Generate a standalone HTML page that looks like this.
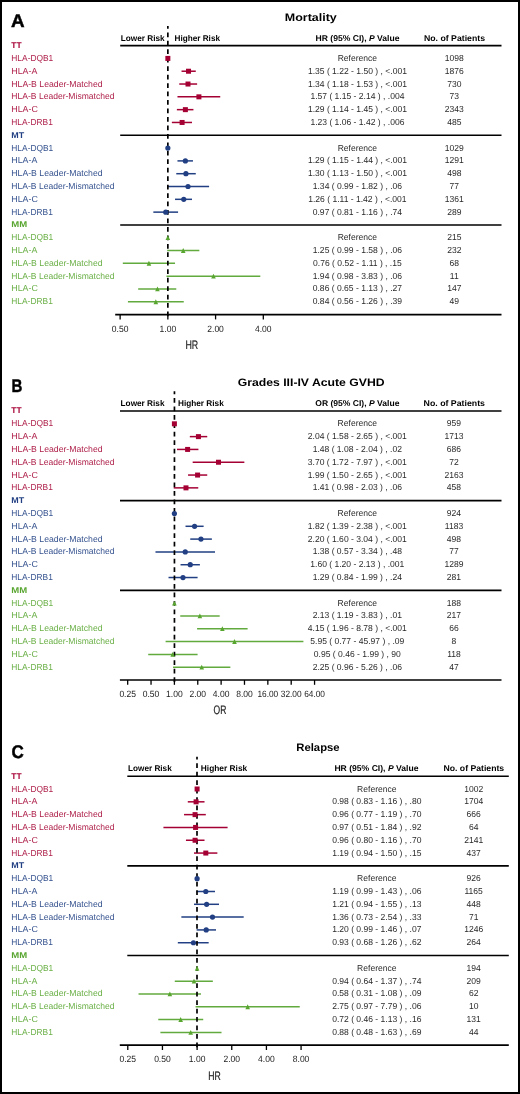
<!DOCTYPE html>
<html><head><meta charset="utf-8"><style>
html,body{margin:0;padding:0;background:#fff;}
.frame{position:relative;width:520px;height:1094px;box-sizing:border-box;border:2px solid #000;overflow:hidden;}
svg{position:absolute;left:-2px;top:-2px;will-change:transform;}
text{font-family:"Liberation Sans", sans-serif;text-rendering:geometricPrecision;}
</style></head><body><div class="frame">
<svg width="520" height="1094" viewBox="0 0 520 1094">
<text x="11.00" y="26.70" font-size="18.2" font-weight="700" fill="#000" textLength="13.60" lengthAdjust="spacingAndGlyphs" stroke="#000" stroke-width="0.45">A</text>
<text x="284.80" y="20.60" font-size="10.9" font-weight="700" fill="#000" textLength="52.00" lengthAdjust="spacingAndGlyphs">Mortality</text>
<text x="120.80" y="40.50" font-size="8.45" font-weight="700" fill="#000" textLength="43.80" lengthAdjust="spacingAndGlyphs">Lower Risk</text>
<text x="174.50" y="40.50" font-size="8.45" font-weight="700" fill="#000" textLength="45.50" lengthAdjust="spacingAndGlyphs">Higher Risk</text>
<text x="315.60" y="40.50" font-size="8.45" font-weight="700" fill="#000" textLength="83.90" lengthAdjust="spacingAndGlyphs">HR (95% CI), <tspan font-style="italic">P</tspan> Value</text>
<text x="424.00" y="40.50" font-size="8.45" font-weight="700" fill="#000" textLength="61.00" lengthAdjust="spacingAndGlyphs">No. of Patients</text>
<line x1="120.2" y1="45.60" x2="501.5" y2="45.60" stroke="#000" stroke-width="1.6"/>
<line x1="120.2" y1="135.27" x2="501.5" y2="135.27" stroke="#000" stroke-width="1.6"/>
<line x1="120.2" y1="224.94" x2="501.5" y2="224.94" stroke="#000" stroke-width="1.6"/>
<line x1="115.2" y1="314.61" x2="501.5" y2="314.61" stroke="#000" stroke-width="1.7"/>
<line x1="120.12" y1="314.61" x2="120.12" y2="319.41" stroke="#000" stroke-width="1.3"/>
<text x="120.12" y="331.81" font-size="9.1" fill="#222" text-anchor="middle" textLength="16.60" lengthAdjust="spacingAndGlyphs">0.50</text>
<line x1="167.85" y1="314.61" x2="167.85" y2="319.41" stroke="#000" stroke-width="1.3"/>
<text x="167.85" y="331.81" font-size="9.1" fill="#222" text-anchor="middle" textLength="16.60" lengthAdjust="spacingAndGlyphs">1.00</text>
<line x1="215.58" y1="314.61" x2="215.58" y2="319.41" stroke="#000" stroke-width="1.3"/>
<text x="215.58" y="331.81" font-size="9.1" fill="#222" text-anchor="middle" textLength="16.60" lengthAdjust="spacingAndGlyphs">2.00</text>
<line x1="263.31" y1="314.61" x2="263.31" y2="319.41" stroke="#000" stroke-width="1.3"/>
<text x="263.31" y="331.81" font-size="9.1" fill="#222" text-anchor="middle" textLength="16.60" lengthAdjust="spacingAndGlyphs">4.00</text>
<text x="185.40" y="348.80" font-size="12.209302325581445" fill="#222" textLength="12.80" lengthAdjust="spacingAndGlyphs" stroke="#222" stroke-width="0.2">HR</text>
<text x="11.30" y="47.90" font-size="8.4" font-weight="700" fill="#A50034" textLength="10.30" lengthAdjust="spacingAndGlyphs">TT</text>
<text x="11.30" y="60.91" font-size="8.75" fill="#AE1F49" textLength="42.00" lengthAdjust="spacingAndGlyphs">HLA-DQB1</text>
<text x="357.40" y="60.91" font-size="8.75" fill="#2A2A2A" text-anchor="middle" textLength="39.41" lengthAdjust="spacingAndGlyphs">Reference</text>
<text x="454.30" y="60.91" font-size="8.75" fill="#2A2A2A" text-anchor="middle" textLength="19.02" lengthAdjust="spacingAndGlyphs">1098</text>
<text x="11.30" y="73.72" font-size="8.75" fill="#AE1F49" textLength="26.10" lengthAdjust="spacingAndGlyphs">HLA-A</text>
<text x="357.40" y="73.72" font-size="8.75" fill="#2A2A2A" text-anchor="middle" textLength="99.02" lengthAdjust="spacingAndGlyphs">1.35 ( 1.22 - 1.50 ) , &lt;.001</text>
<text x="454.30" y="73.72" font-size="8.75" fill="#2A2A2A" text-anchor="middle" textLength="19.02" lengthAdjust="spacingAndGlyphs">1876</text>
<text x="11.30" y="86.53" font-size="8.75" fill="#AE1F49" textLength="91.30" lengthAdjust="spacingAndGlyphs">HLA-B Leader-Matched</text>
<text x="357.40" y="86.53" font-size="8.75" fill="#2A2A2A" text-anchor="middle" textLength="99.02" lengthAdjust="spacingAndGlyphs">1.34 ( 1.18 - 1.53 ) , &lt;.001</text>
<text x="454.30" y="86.53" font-size="8.75" fill="#2A2A2A" text-anchor="middle" textLength="14.26" lengthAdjust="spacingAndGlyphs">730</text>
<text x="11.30" y="99.34" font-size="8.75" fill="#AE1F49" textLength="103.20" lengthAdjust="spacingAndGlyphs">HLA-B Leader-Mismatched</text>
<text x="357.40" y="99.34" font-size="8.75" fill="#2A2A2A" text-anchor="middle" textLength="94.03" lengthAdjust="spacingAndGlyphs">1.57 ( 1.15 - 2.14 ) , .004</text>
<text x="454.30" y="99.34" font-size="8.75" fill="#2A2A2A" text-anchor="middle" textLength="9.52" lengthAdjust="spacingAndGlyphs">73</text>
<text x="11.30" y="112.15" font-size="8.75" fill="#AE1F49" textLength="26.60" lengthAdjust="spacingAndGlyphs">HLA-C</text>
<text x="357.40" y="112.15" font-size="8.75" fill="#2A2A2A" text-anchor="middle" textLength="99.02" lengthAdjust="spacingAndGlyphs">1.29 ( 1.14 - 1.45 ) , &lt;.001</text>
<text x="454.30" y="112.15" font-size="8.75" fill="#2A2A2A" text-anchor="middle" textLength="19.02" lengthAdjust="spacingAndGlyphs">2343</text>
<text x="11.30" y="124.96" font-size="8.75" fill="#AE1F49" textLength="41.50" lengthAdjust="spacingAndGlyphs">HLA-DRB1</text>
<text x="357.40" y="124.96" font-size="8.75" fill="#2A2A2A" text-anchor="middle" textLength="94.03" lengthAdjust="spacingAndGlyphs">1.23 ( 1.06 - 1.42 ) , .006</text>
<text x="454.30" y="124.96" font-size="8.75" fill="#2A2A2A" text-anchor="middle" textLength="14.26" lengthAdjust="spacingAndGlyphs">485</text>
<text x="11.30" y="137.57" font-size="8.4" font-weight="700" fill="#213F82" textLength="12.90" lengthAdjust="spacingAndGlyphs">MT</text>
<text x="11.30" y="150.58" font-size="8.75" fill="#36538F" textLength="42.00" lengthAdjust="spacingAndGlyphs">HLA-DQB1</text>
<text x="357.40" y="150.58" font-size="8.75" fill="#2A2A2A" text-anchor="middle" textLength="39.41" lengthAdjust="spacingAndGlyphs">Reference</text>
<text x="454.30" y="150.58" font-size="8.75" fill="#2A2A2A" text-anchor="middle" textLength="19.02" lengthAdjust="spacingAndGlyphs">1029</text>
<text x="11.30" y="163.39" font-size="8.75" fill="#36538F" textLength="26.10" lengthAdjust="spacingAndGlyphs">HLA-A</text>
<text x="357.40" y="163.39" font-size="8.75" fill="#2A2A2A" text-anchor="middle" textLength="99.02" lengthAdjust="spacingAndGlyphs">1.29 ( 1.15 - 1.44 ) , &lt;.001</text>
<text x="454.30" y="163.39" font-size="8.75" fill="#2A2A2A" text-anchor="middle" textLength="19.02" lengthAdjust="spacingAndGlyphs">1291</text>
<text x="11.30" y="176.20" font-size="8.75" fill="#36538F" textLength="91.30" lengthAdjust="spacingAndGlyphs">HLA-B Leader-Matched</text>
<text x="357.40" y="176.20" font-size="8.75" fill="#2A2A2A" text-anchor="middle" textLength="99.02" lengthAdjust="spacingAndGlyphs">1.30 ( 1.13 - 1.50 ) , &lt;.001</text>
<text x="454.30" y="176.20" font-size="8.75" fill="#2A2A2A" text-anchor="middle" textLength="14.26" lengthAdjust="spacingAndGlyphs">498</text>
<text x="11.30" y="189.01" font-size="8.75" fill="#36538F" textLength="103.20" lengthAdjust="spacingAndGlyphs">HLA-B Leader-Mismatched</text>
<text x="357.40" y="189.01" font-size="8.75" fill="#2A2A2A" text-anchor="middle" textLength="89.29" lengthAdjust="spacingAndGlyphs">1.34 ( 0.99 - 1.82 ) , .06</text>
<text x="454.30" y="189.01" font-size="8.75" fill="#2A2A2A" text-anchor="middle" textLength="9.52" lengthAdjust="spacingAndGlyphs">77</text>
<text x="11.30" y="201.82" font-size="8.75" fill="#36538F" textLength="26.60" lengthAdjust="spacingAndGlyphs">HLA-C</text>
<text x="357.40" y="201.82" font-size="8.75" fill="#2A2A2A" text-anchor="middle" textLength="98.40" lengthAdjust="spacingAndGlyphs">1.26 ( 1.11 - 1.42 ) , &lt;.001</text>
<text x="454.30" y="201.82" font-size="8.75" fill="#2A2A2A" text-anchor="middle" textLength="19.02" lengthAdjust="spacingAndGlyphs">1361</text>
<text x="11.30" y="214.63" font-size="8.75" fill="#36538F" textLength="41.50" lengthAdjust="spacingAndGlyphs">HLA-DRB1</text>
<text x="357.40" y="214.63" font-size="8.75" fill="#2A2A2A" text-anchor="middle" textLength="89.29" lengthAdjust="spacingAndGlyphs">0.97 ( 0.81 - 1.16 ) , .74</text>
<text x="454.30" y="214.63" font-size="8.75" fill="#2A2A2A" text-anchor="middle" textLength="14.26" lengthAdjust="spacingAndGlyphs">289</text>
<text x="11.30" y="227.24" font-size="8.4" font-weight="700" fill="#58A530" textLength="15.90" lengthAdjust="spacingAndGlyphs">MM</text>
<text x="11.30" y="240.25" font-size="8.75" fill="#6BB047" textLength="42.00" lengthAdjust="spacingAndGlyphs">HLA-DQB1</text>
<text x="357.40" y="240.25" font-size="8.75" fill="#2A2A2A" text-anchor="middle" textLength="39.41" lengthAdjust="spacingAndGlyphs">Reference</text>
<text x="454.30" y="240.25" font-size="8.75" fill="#2A2A2A" text-anchor="middle" textLength="14.26" lengthAdjust="spacingAndGlyphs">215</text>
<text x="11.30" y="253.06" font-size="8.75" fill="#6BB047" textLength="26.10" lengthAdjust="spacingAndGlyphs">HLA-A</text>
<text x="357.40" y="253.06" font-size="8.75" fill="#2A2A2A" text-anchor="middle" textLength="89.29" lengthAdjust="spacingAndGlyphs">1.25 ( 0.99 - 1.58 ) , .06</text>
<text x="454.30" y="253.06" font-size="8.75" fill="#2A2A2A" text-anchor="middle" textLength="14.26" lengthAdjust="spacingAndGlyphs">232</text>
<text x="11.30" y="265.87" font-size="8.75" fill="#6BB047" textLength="91.30" lengthAdjust="spacingAndGlyphs">HLA-B Leader-Matched</text>
<text x="357.40" y="265.87" font-size="8.75" fill="#2A2A2A" text-anchor="middle" textLength="88.64" lengthAdjust="spacingAndGlyphs">0.76 ( 0.52 - 1.11 ) , .15</text>
<text x="454.30" y="265.87" font-size="8.75" fill="#2A2A2A" text-anchor="middle" textLength="9.52" lengthAdjust="spacingAndGlyphs">68</text>
<text x="11.30" y="278.68" font-size="8.75" fill="#6BB047" textLength="103.20" lengthAdjust="spacingAndGlyphs">HLA-B Leader-Mismatched</text>
<text x="357.40" y="278.68" font-size="8.75" fill="#2A2A2A" text-anchor="middle" textLength="89.29" lengthAdjust="spacingAndGlyphs">1.94 ( 0.98 - 3.83 ) , .06</text>
<text x="454.30" y="278.68" font-size="8.75" fill="#2A2A2A" text-anchor="middle" textLength="8.87" lengthAdjust="spacingAndGlyphs">11</text>
<text x="11.30" y="291.49" font-size="8.75" fill="#6BB047" textLength="26.60" lengthAdjust="spacingAndGlyphs">HLA-C</text>
<text x="357.40" y="291.49" font-size="8.75" fill="#2A2A2A" text-anchor="middle" textLength="89.29" lengthAdjust="spacingAndGlyphs">0.86 ( 0.65 - 1.13 ) , .27</text>
<text x="454.30" y="291.49" font-size="8.75" fill="#2A2A2A" text-anchor="middle" textLength="14.26" lengthAdjust="spacingAndGlyphs">147</text>
<text x="11.30" y="304.30" font-size="8.75" fill="#6BB047" textLength="41.50" lengthAdjust="spacingAndGlyphs">HLA-DRB1</text>
<text x="357.40" y="304.30" font-size="8.75" fill="#2A2A2A" text-anchor="middle" textLength="89.29" lengthAdjust="spacingAndGlyphs">0.84 ( 0.56 - 1.26 ) , .39</text>
<text x="454.30" y="304.30" font-size="8.75" fill="#2A2A2A" text-anchor="middle" textLength="9.52" lengthAdjust="spacingAndGlyphs">49</text>
<line x1="181.54" y1="71.22" x2="195.77" y2="71.22" stroke="#A50034" stroke-width="1.5"/>
<line x1="179.25" y1="84.03" x2="197.13" y2="84.03" stroke="#A50034" stroke-width="1.5"/>
<line x1="177.47" y1="96.84" x2="220.24" y2="96.84" stroke="#A50034" stroke-width="1.5"/>
<line x1="176.87" y1="109.65" x2="193.44" y2="109.65" stroke="#A50034" stroke-width="1.5"/>
<line x1="171.86" y1="122.46" x2="192.00" y2="122.46" stroke="#A50034" stroke-width="1.5"/>
<line x1="177.47" y1="160.89" x2="192.96" y2="160.89" stroke="#213F82" stroke-width="1.5"/>
<line x1="176.27" y1="173.70" x2="195.77" y2="173.70" stroke="#213F82" stroke-width="1.5"/>
<line x1="167.16" y1="186.51" x2="209.09" y2="186.51" stroke="#213F82" stroke-width="1.5"/>
<line x1="175.04" y1="199.32" x2="192.00" y2="199.32" stroke="#213F82" stroke-width="1.5"/>
<line x1="153.34" y1="212.13" x2="178.07" y2="212.13" stroke="#213F82" stroke-width="1.5"/>
<line x1="167.16" y1="250.56" x2="199.35" y2="250.56" stroke="#62AA3E" stroke-width="1.5"/>
<line x1="122.82" y1="263.37" x2="175.04" y2="263.37" stroke="#62AA3E" stroke-width="1.5"/>
<line x1="166.46" y1="276.18" x2="260.32" y2="276.18" stroke="#62AA3E" stroke-width="1.5"/>
<line x1="138.19" y1="288.99" x2="176.27" y2="288.99" stroke="#62AA3E" stroke-width="1.5"/>
<line x1="127.92" y1="301.80" x2="183.76" y2="301.80" stroke="#62AA3E" stroke-width="1.5"/>
<line x1="167.85" y1="26" x2="167.85" y2="319.41" stroke="#000" stroke-width="1.7" stroke-dasharray="4.75 3.71" stroke-dashoffset="2.06"/>
<rect x="165.35" y="55.91" width="5" height="5" fill="#A50034"/>
<rect x="186.02" y="68.72" width="5" height="5" fill="#A50034"/>
<rect x="185.50" y="81.53" width="5" height="5" fill="#A50034"/>
<rect x="196.41" y="94.34" width="5" height="5" fill="#A50034"/>
<rect x="182.88" y="107.15" width="5" height="5" fill="#A50034"/>
<rect x="179.60" y="119.96" width="5" height="5" fill="#A50034"/>
<circle cx="167.85" cy="148.08" r="2.6" fill="#213F82"/>
<circle cx="185.38" cy="160.89" r="2.6" fill="#213F82"/>
<circle cx="185.92" cy="173.70" r="2.6" fill="#213F82"/>
<circle cx="188.00" cy="186.51" r="2.6" fill="#213F82"/>
<circle cx="183.76" cy="199.32" r="2.6" fill="#213F82"/>
<circle cx="165.75" cy="212.13" r="2.6" fill="#213F82"/>
<polygon points="167.85,235.25 170.15,240.10 165.55,240.10" fill="#58A530"/>
<polygon points="183.22,248.06 185.52,252.91 180.92,252.91" fill="#58A530"/>
<polygon points="148.95,260.87 151.25,265.72 146.65,265.72" fill="#58A530"/>
<polygon points="213.48,273.68 215.78,278.53 211.18,278.53" fill="#58A530"/>
<polygon points="157.46,286.49 159.76,291.34 155.16,291.34" fill="#58A530"/>
<polygon points="155.84,299.30 158.14,304.15 153.54,304.15" fill="#58A530"/>
<text x="11.60" y="391.90" font-size="18.2" font-weight="700" fill="#000" textLength="10.90" lengthAdjust="spacingAndGlyphs" stroke="#000" stroke-width="0.45">B</text>
<text x="237.70" y="386.20" font-size="10.9" font-weight="700" fill="#000" textLength="146.90" lengthAdjust="spacingAndGlyphs">Grades III-IV Acute GVHD</text>
<text x="120.60" y="405.60" font-size="8.45" font-weight="700" fill="#000" textLength="43.90" lengthAdjust="spacingAndGlyphs">Lower Risk</text>
<text x="178.00" y="405.60" font-size="8.45" font-weight="700" fill="#000" textLength="45.75" lengthAdjust="spacingAndGlyphs">Higher Risk</text>
<text x="315.30" y="405.60" font-size="8.45" font-weight="700" fill="#000" textLength="84.10" lengthAdjust="spacingAndGlyphs">OR (95% CI), <tspan font-style="italic">P</tspan> Value</text>
<text x="423.60" y="405.60" font-size="8.45" font-weight="700" fill="#000" textLength="61.40" lengthAdjust="spacingAndGlyphs">No. of Patients</text>
<line x1="120.0" y1="411.00" x2="501.5" y2="411.00" stroke="#000" stroke-width="1.6"/>
<line x1="120.0" y1="500.67" x2="501.5" y2="500.67" stroke="#000" stroke-width="1.6"/>
<line x1="120.0" y1="590.34" x2="501.5" y2="590.34" stroke="#000" stroke-width="1.6"/>
<line x1="119.9" y1="680.01" x2="501.5" y2="680.01" stroke="#000" stroke-width="1.7"/>
<line x1="127.68" y1="680.01" x2="127.68" y2="684.81" stroke="#000" stroke-width="1.3"/>
<text x="127.68" y="697.21" font-size="9.1" fill="#222" text-anchor="middle" textLength="16.60" lengthAdjust="spacingAndGlyphs">0.25</text>
<line x1="151.04" y1="680.01" x2="151.04" y2="684.81" stroke="#000" stroke-width="1.3"/>
<text x="151.04" y="697.21" font-size="9.1" fill="#222" text-anchor="middle" textLength="16.60" lengthAdjust="spacingAndGlyphs">0.50</text>
<line x1="174.40" y1="680.01" x2="174.40" y2="684.81" stroke="#000" stroke-width="1.3"/>
<text x="174.40" y="697.21" font-size="9.1" fill="#222" text-anchor="middle" textLength="16.60" lengthAdjust="spacingAndGlyphs">1.00</text>
<line x1="197.76" y1="680.01" x2="197.76" y2="684.81" stroke="#000" stroke-width="1.3"/>
<text x="197.76" y="697.21" font-size="9.1" fill="#222" text-anchor="middle" textLength="16.60" lengthAdjust="spacingAndGlyphs">2.00</text>
<line x1="221.12" y1="680.01" x2="221.12" y2="684.81" stroke="#000" stroke-width="1.3"/>
<text x="221.12" y="697.21" font-size="9.1" fill="#222" text-anchor="middle" textLength="16.60" lengthAdjust="spacingAndGlyphs">4.00</text>
<line x1="244.48" y1="680.01" x2="244.48" y2="684.81" stroke="#000" stroke-width="1.3"/>
<text x="244.48" y="697.21" font-size="9.1" fill="#222" text-anchor="middle" textLength="16.60" lengthAdjust="spacingAndGlyphs">8.00</text>
<line x1="267.84" y1="680.01" x2="267.84" y2="684.81" stroke="#000" stroke-width="1.3"/>
<text x="267.84" y="697.21" font-size="9.1" fill="#222" text-anchor="middle" textLength="20.80" lengthAdjust="spacingAndGlyphs">16.00</text>
<line x1="291.20" y1="680.01" x2="291.20" y2="684.81" stroke="#000" stroke-width="1.3"/>
<text x="291.20" y="697.21" font-size="9.1" fill="#222" text-anchor="middle" textLength="20.80" lengthAdjust="spacingAndGlyphs">32.00</text>
<line x1="314.56" y1="680.01" x2="314.56" y2="684.81" stroke="#000" stroke-width="1.3"/>
<text x="314.56" y="697.21" font-size="9.1" fill="#222" text-anchor="middle" textLength="20.80" lengthAdjust="spacingAndGlyphs">64.00</text>
<text x="213.60" y="714.40" font-size="12.354651162790699" fill="#222" textLength="12.80" lengthAdjust="spacingAndGlyphs" stroke="#222" stroke-width="0.2">OR</text>
<text x="11.30" y="413.30" font-size="8.4" font-weight="700" fill="#A50034" textLength="10.30" lengthAdjust="spacingAndGlyphs">TT</text>
<text x="11.30" y="426.31" font-size="8.75" fill="#AE1F49" textLength="42.00" lengthAdjust="spacingAndGlyphs">HLA-DQB1</text>
<text x="357.30" y="426.31" font-size="8.75" fill="#2A2A2A" text-anchor="middle" textLength="39.41" lengthAdjust="spacingAndGlyphs">Reference</text>
<text x="454.00" y="426.31" font-size="8.75" fill="#2A2A2A" text-anchor="middle" textLength="14.26" lengthAdjust="spacingAndGlyphs">959</text>
<text x="11.30" y="439.12" font-size="8.75" fill="#AE1F49" textLength="26.10" lengthAdjust="spacingAndGlyphs">HLA-A</text>
<text x="357.30" y="439.12" font-size="8.75" fill="#2A2A2A" text-anchor="middle" textLength="99.02" lengthAdjust="spacingAndGlyphs">2.04 ( 1.58 - 2.65 ) , &lt;.001</text>
<text x="454.00" y="439.12" font-size="8.75" fill="#2A2A2A" text-anchor="middle" textLength="19.02" lengthAdjust="spacingAndGlyphs">1713</text>
<text x="11.30" y="451.93" font-size="8.75" fill="#AE1F49" textLength="91.30" lengthAdjust="spacingAndGlyphs">HLA-B Leader-Matched</text>
<text x="357.30" y="451.93" font-size="8.75" fill="#2A2A2A" text-anchor="middle" textLength="89.29" lengthAdjust="spacingAndGlyphs">1.48 ( 1.08 - 2.04 ) , .02</text>
<text x="454.00" y="451.93" font-size="8.75" fill="#2A2A2A" text-anchor="middle" textLength="14.26" lengthAdjust="spacingAndGlyphs">686</text>
<text x="11.30" y="464.74" font-size="8.75" fill="#AE1F49" textLength="103.20" lengthAdjust="spacingAndGlyphs">HLA-B Leader-Mismatched</text>
<text x="357.30" y="464.74" font-size="8.75" fill="#2A2A2A" text-anchor="middle" textLength="99.02" lengthAdjust="spacingAndGlyphs">3.70 ( 1.72 - 7.97 ) , &lt;.001</text>
<text x="454.00" y="464.74" font-size="8.75" fill="#2A2A2A" text-anchor="middle" textLength="9.52" lengthAdjust="spacingAndGlyphs">72</text>
<text x="11.30" y="477.55" font-size="8.75" fill="#AE1F49" textLength="26.60" lengthAdjust="spacingAndGlyphs">HLA-C</text>
<text x="357.30" y="477.55" font-size="8.75" fill="#2A2A2A" text-anchor="middle" textLength="99.02" lengthAdjust="spacingAndGlyphs">1.99 ( 1.50 - 2.65 ) , &lt;.001</text>
<text x="454.00" y="477.55" font-size="8.75" fill="#2A2A2A" text-anchor="middle" textLength="19.02" lengthAdjust="spacingAndGlyphs">2163</text>
<text x="11.30" y="490.36" font-size="8.75" fill="#AE1F49" textLength="41.50" lengthAdjust="spacingAndGlyphs">HLA-DRB1</text>
<text x="357.30" y="490.36" font-size="8.75" fill="#2A2A2A" text-anchor="middle" textLength="89.29" lengthAdjust="spacingAndGlyphs">1.41 ( 0.98 - 2.03 ) , .06</text>
<text x="454.00" y="490.36" font-size="8.75" fill="#2A2A2A" text-anchor="middle" textLength="14.26" lengthAdjust="spacingAndGlyphs">458</text>
<text x="11.30" y="502.97" font-size="8.4" font-weight="700" fill="#213F82" textLength="12.90" lengthAdjust="spacingAndGlyphs">MT</text>
<text x="11.30" y="515.98" font-size="8.75" fill="#36538F" textLength="42.00" lengthAdjust="spacingAndGlyphs">HLA-DQB1</text>
<text x="357.30" y="515.98" font-size="8.75" fill="#2A2A2A" text-anchor="middle" textLength="39.41" lengthAdjust="spacingAndGlyphs">Reference</text>
<text x="454.00" y="515.98" font-size="8.75" fill="#2A2A2A" text-anchor="middle" textLength="14.26" lengthAdjust="spacingAndGlyphs">924</text>
<text x="11.30" y="528.79" font-size="8.75" fill="#36538F" textLength="26.10" lengthAdjust="spacingAndGlyphs">HLA-A</text>
<text x="357.30" y="528.79" font-size="8.75" fill="#2A2A2A" text-anchor="middle" textLength="99.02" lengthAdjust="spacingAndGlyphs">1.82 ( 1.39 - 2.38 ) , &lt;.001</text>
<text x="454.00" y="528.79" font-size="8.75" fill="#2A2A2A" text-anchor="middle" textLength="18.37" lengthAdjust="spacingAndGlyphs">1183</text>
<text x="11.30" y="541.60" font-size="8.75" fill="#36538F" textLength="91.30" lengthAdjust="spacingAndGlyphs">HLA-B Leader-Matched</text>
<text x="357.30" y="541.60" font-size="8.75" fill="#2A2A2A" text-anchor="middle" textLength="99.02" lengthAdjust="spacingAndGlyphs">2.20 ( 1.60 - 3.04 ) , &lt;.001</text>
<text x="454.00" y="541.60" font-size="8.75" fill="#2A2A2A" text-anchor="middle" textLength="14.26" lengthAdjust="spacingAndGlyphs">498</text>
<text x="11.30" y="554.41" font-size="8.75" fill="#36538F" textLength="103.20" lengthAdjust="spacingAndGlyphs">HLA-B Leader-Mismatched</text>
<text x="357.30" y="554.41" font-size="8.75" fill="#2A2A2A" text-anchor="middle" textLength="89.29" lengthAdjust="spacingAndGlyphs">1.38 ( 0.57 - 3.34 ) , .48</text>
<text x="454.00" y="554.41" font-size="8.75" fill="#2A2A2A" text-anchor="middle" textLength="9.52" lengthAdjust="spacingAndGlyphs">77</text>
<text x="11.30" y="567.22" font-size="8.75" fill="#36538F" textLength="26.60" lengthAdjust="spacingAndGlyphs">HLA-C</text>
<text x="357.30" y="567.22" font-size="8.75" fill="#2A2A2A" text-anchor="middle" textLength="94.03" lengthAdjust="spacingAndGlyphs">1.60 ( 1.20 - 2.13 ) , .001</text>
<text x="454.00" y="567.22" font-size="8.75" fill="#2A2A2A" text-anchor="middle" textLength="19.02" lengthAdjust="spacingAndGlyphs">1289</text>
<text x="11.30" y="580.03" font-size="8.75" fill="#36538F" textLength="41.50" lengthAdjust="spacingAndGlyphs">HLA-DRB1</text>
<text x="357.30" y="580.03" font-size="8.75" fill="#2A2A2A" text-anchor="middle" textLength="89.29" lengthAdjust="spacingAndGlyphs">1.29 ( 0.84 - 1.99 ) , .24</text>
<text x="454.00" y="580.03" font-size="8.75" fill="#2A2A2A" text-anchor="middle" textLength="14.26" lengthAdjust="spacingAndGlyphs">281</text>
<text x="11.30" y="592.64" font-size="8.4" font-weight="700" fill="#58A530" textLength="15.90" lengthAdjust="spacingAndGlyphs">MM</text>
<text x="11.30" y="605.65" font-size="8.75" fill="#6BB047" textLength="42.00" lengthAdjust="spacingAndGlyphs">HLA-DQB1</text>
<text x="357.30" y="605.65" font-size="8.75" fill="#2A2A2A" text-anchor="middle" textLength="39.41" lengthAdjust="spacingAndGlyphs">Reference</text>
<text x="454.00" y="605.65" font-size="8.75" fill="#2A2A2A" text-anchor="middle" textLength="14.26" lengthAdjust="spacingAndGlyphs">188</text>
<text x="11.30" y="618.46" font-size="8.75" fill="#6BB047" textLength="26.10" lengthAdjust="spacingAndGlyphs">HLA-A</text>
<text x="357.30" y="618.46" font-size="8.75" fill="#2A2A2A" text-anchor="middle" textLength="89.29" lengthAdjust="spacingAndGlyphs">2.13 ( 1.19 - 3.83 ) , .01</text>
<text x="454.00" y="618.46" font-size="8.75" fill="#2A2A2A" text-anchor="middle" textLength="14.26" lengthAdjust="spacingAndGlyphs">217</text>
<text x="11.30" y="631.27" font-size="8.75" fill="#6BB047" textLength="91.30" lengthAdjust="spacingAndGlyphs">HLA-B Leader-Matched</text>
<text x="357.30" y="631.27" font-size="8.75" fill="#2A2A2A" text-anchor="middle" textLength="99.02" lengthAdjust="spacingAndGlyphs">4.15 ( 1.96 - 8.78 ) , &lt;.001</text>
<text x="454.00" y="631.27" font-size="8.75" fill="#2A2A2A" text-anchor="middle" textLength="9.52" lengthAdjust="spacingAndGlyphs">66</text>
<text x="11.30" y="644.08" font-size="8.75" fill="#6BB047" textLength="103.20" lengthAdjust="spacingAndGlyphs">HLA-B Leader-Mismatched</text>
<text x="357.30" y="644.08" font-size="8.75" fill="#2A2A2A" text-anchor="middle" textLength="94.03" lengthAdjust="spacingAndGlyphs">5.95 ( 0.77 - 45.97 ) , .09</text>
<text x="454.00" y="644.08" font-size="8.75" fill="#2A2A2A" text-anchor="middle" textLength="4.76" lengthAdjust="spacingAndGlyphs">8</text>
<text x="11.30" y="656.89" font-size="8.75" fill="#6BB047" textLength="26.60" lengthAdjust="spacingAndGlyphs">HLA-C</text>
<text x="357.30" y="656.89" font-size="8.75" fill="#2A2A2A" text-anchor="middle" textLength="86.92" lengthAdjust="spacingAndGlyphs">0.95 ( 0.46 - 1.99 ) , 90</text>
<text x="454.00" y="656.89" font-size="8.75" fill="#2A2A2A" text-anchor="middle" textLength="13.63" lengthAdjust="spacingAndGlyphs">118</text>
<text x="11.30" y="669.70" font-size="8.75" fill="#6BB047" textLength="41.50" lengthAdjust="spacingAndGlyphs">HLA-DRB1</text>
<text x="357.30" y="669.70" font-size="8.75" fill="#2A2A2A" text-anchor="middle" textLength="89.29" lengthAdjust="spacingAndGlyphs">2.25 ( 0.96 - 5.26 ) , .06</text>
<text x="454.00" y="669.70" font-size="8.75" fill="#2A2A2A" text-anchor="middle" textLength="9.52" lengthAdjust="spacingAndGlyphs">47</text>
<line x1="189.82" y1="436.62" x2="207.24" y2="436.62" stroke="#A50034" stroke-width="1.5"/>
<line x1="176.99" y1="449.43" x2="198.43" y2="449.43" stroke="#A50034" stroke-width="1.5"/>
<line x1="192.68" y1="462.24" x2="244.35" y2="462.24" stroke="#A50034" stroke-width="1.5"/>
<line x1="188.06" y1="475.05" x2="207.24" y2="475.05" stroke="#A50034" stroke-width="1.5"/>
<line x1="173.72" y1="487.86" x2="198.26" y2="487.86" stroke="#A50034" stroke-width="1.5"/>
<line x1="185.50" y1="526.29" x2="203.62" y2="526.29" stroke="#213F82" stroke-width="1.5"/>
<line x1="190.24" y1="539.10" x2="211.87" y2="539.10" stroke="#213F82" stroke-width="1.5"/>
<line x1="155.46" y1="551.91" x2="215.04" y2="551.91" stroke="#213F82" stroke-width="1.5"/>
<line x1="180.54" y1="564.72" x2="199.88" y2="564.72" stroke="#213F82" stroke-width="1.5"/>
<line x1="168.52" y1="577.53" x2="197.59" y2="577.53" stroke="#213F82" stroke-width="1.5"/>
<line x1="180.26" y1="615.96" x2="219.66" y2="615.96" stroke="#62AA3E" stroke-width="1.5"/>
<line x1="197.08" y1="628.77" x2="247.62" y2="628.77" stroke="#62AA3E" stroke-width="1.5"/>
<line x1="165.59" y1="641.58" x2="303.41" y2="641.58" stroke="#62AA3E" stroke-width="1.5"/>
<line x1="148.23" y1="654.39" x2="197.59" y2="654.39" stroke="#62AA3E" stroke-width="1.5"/>
<line x1="173.02" y1="667.20" x2="230.35" y2="667.20" stroke="#62AA3E" stroke-width="1.5"/>
<line x1="174.45" y1="391.3" x2="174.45" y2="684.81" stroke="#000" stroke-width="1.7" stroke-dasharray="4.75 3.71" stroke-dashoffset="1.8"/>
<rect x="171.90" y="421.31" width="5" height="5" fill="#A50034"/>
<rect x="195.93" y="434.12" width="5" height="5" fill="#A50034"/>
<rect x="185.11" y="446.93" width="5" height="5" fill="#A50034"/>
<rect x="215.99" y="459.74" width="5" height="5" fill="#A50034"/>
<rect x="195.09" y="472.55" width="5" height="5" fill="#A50034"/>
<rect x="183.48" y="485.36" width="5" height="5" fill="#A50034"/>
<circle cx="174.40" cy="513.48" r="2.6" fill="#213F82"/>
<circle cx="194.58" cy="526.29" r="2.6" fill="#213F82"/>
<circle cx="200.97" cy="539.10" r="2.6" fill="#213F82"/>
<circle cx="185.25" cy="551.91" r="2.6" fill="#213F82"/>
<circle cx="190.24" cy="564.72" r="2.6" fill="#213F82"/>
<circle cx="182.98" cy="577.53" r="2.6" fill="#213F82"/>
<polygon points="174.40,600.65 176.70,605.50 172.10,605.50" fill="#58A530"/>
<polygon points="199.88,613.46 202.18,618.31 197.58,618.31" fill="#58A530"/>
<polygon points="222.36,626.27 224.66,631.12 220.06,631.12" fill="#58A530"/>
<polygon points="234.50,639.08 236.80,643.93 232.20,643.93" fill="#58A530"/>
<polygon points="172.67,651.89 174.97,656.74 170.37,656.74" fill="#58A530"/>
<polygon points="201.73,664.70 204.03,669.55 199.43,669.55" fill="#58A530"/>
<text x="11.60" y="757.60" font-size="18.2" font-weight="700" fill="#000" textLength="12.30" lengthAdjust="spacingAndGlyphs" stroke="#000" stroke-width="0.45">C</text>
<text x="296.30" y="751.20" font-size="10.9" font-weight="700" fill="#000" textLength="43.30" lengthAdjust="spacingAndGlyphs">Relapse</text>
<text x="128.00" y="771.30" font-size="8.45" font-weight="700" fill="#000" textLength="43.70" lengthAdjust="spacingAndGlyphs">Lower Risk</text>
<text x="200.80" y="771.30" font-size="8.45" font-weight="700" fill="#000" textLength="46.40" lengthAdjust="spacingAndGlyphs">Higher Risk</text>
<text x="334.40" y="771.30" font-size="8.45" font-weight="700" fill="#000" textLength="84.10" lengthAdjust="spacingAndGlyphs">HR (95% CI), <tspan font-style="italic">P</tspan> Value</text>
<text x="443.50" y="771.30" font-size="8.45" font-weight="700" fill="#000" textLength="60.70" lengthAdjust="spacingAndGlyphs">No. of Patients</text>
<line x1="127.3" y1="776.20" x2="508.8" y2="776.20" stroke="#000" stroke-width="1.6"/>
<line x1="127.3" y1="865.87" x2="508.8" y2="865.87" stroke="#000" stroke-width="1.6"/>
<line x1="127.3" y1="955.54" x2="508.8" y2="955.54" stroke="#000" stroke-width="1.6"/>
<line x1="119.8" y1="1045.21" x2="508.8" y2="1045.21" stroke="#000" stroke-width="1.7"/>
<line x1="127.78" y1="1045.21" x2="127.78" y2="1050.01" stroke="#000" stroke-width="1.3"/>
<text x="127.78" y="1062.41" font-size="9.1" fill="#222" text-anchor="middle" textLength="16.60" lengthAdjust="spacingAndGlyphs">0.25</text>
<line x1="162.44" y1="1045.21" x2="162.44" y2="1050.01" stroke="#000" stroke-width="1.3"/>
<text x="162.44" y="1062.41" font-size="9.1" fill="#222" text-anchor="middle" textLength="16.60" lengthAdjust="spacingAndGlyphs">0.50</text>
<line x1="197.10" y1="1045.21" x2="197.10" y2="1050.01" stroke="#000" stroke-width="1.3"/>
<text x="197.10" y="1062.41" font-size="9.1" fill="#222" text-anchor="middle" textLength="16.60" lengthAdjust="spacingAndGlyphs">1.00</text>
<line x1="231.76" y1="1045.21" x2="231.76" y2="1050.01" stroke="#000" stroke-width="1.3"/>
<text x="231.76" y="1062.41" font-size="9.1" fill="#222" text-anchor="middle" textLength="16.60" lengthAdjust="spacingAndGlyphs">2.00</text>
<line x1="266.42" y1="1045.21" x2="266.42" y2="1050.01" stroke="#000" stroke-width="1.3"/>
<text x="266.42" y="1062.41" font-size="9.1" fill="#222" text-anchor="middle" textLength="16.60" lengthAdjust="spacingAndGlyphs">4.00</text>
<line x1="301.08" y1="1045.21" x2="301.08" y2="1050.01" stroke="#000" stroke-width="1.3"/>
<text x="301.08" y="1062.41" font-size="9.1" fill="#222" text-anchor="middle" textLength="16.60" lengthAdjust="spacingAndGlyphs">8.00</text>
<text x="208.30" y="1079.60" font-size="12.209302325581199" fill="#222" textLength="12.50" lengthAdjust="spacingAndGlyphs" stroke="#222" stroke-width="0.2">HR</text>
<text x="11.30" y="778.50" font-size="8.4" font-weight="700" fill="#A50034" textLength="10.30" lengthAdjust="spacingAndGlyphs">TT</text>
<text x="11.30" y="791.51" font-size="8.75" fill="#AE1F49" textLength="42.00" lengthAdjust="spacingAndGlyphs">HLA-DQB1</text>
<text x="376.80" y="791.51" font-size="8.75" fill="#2A2A2A" text-anchor="middle" textLength="39.41" lengthAdjust="spacingAndGlyphs">Reference</text>
<text x="473.70" y="791.51" font-size="8.75" fill="#2A2A2A" text-anchor="middle" textLength="19.02" lengthAdjust="spacingAndGlyphs">1002</text>
<text x="11.30" y="804.32" font-size="8.75" fill="#AE1F49" textLength="26.10" lengthAdjust="spacingAndGlyphs">HLA-A</text>
<text x="376.80" y="804.32" font-size="8.75" fill="#2A2A2A" text-anchor="middle" textLength="89.29" lengthAdjust="spacingAndGlyphs">0.98 ( 0.83 - 1.16 ) , .80</text>
<text x="473.70" y="804.32" font-size="8.75" fill="#2A2A2A" text-anchor="middle" textLength="19.02" lengthAdjust="spacingAndGlyphs">1704</text>
<text x="11.30" y="817.13" font-size="8.75" fill="#AE1F49" textLength="91.30" lengthAdjust="spacingAndGlyphs">HLA-B Leader-Matched</text>
<text x="376.80" y="817.13" font-size="8.75" fill="#2A2A2A" text-anchor="middle" textLength="89.29" lengthAdjust="spacingAndGlyphs">0.96 ( 0.77 - 1.19 ) , .70</text>
<text x="473.70" y="817.13" font-size="8.75" fill="#2A2A2A" text-anchor="middle" textLength="14.26" lengthAdjust="spacingAndGlyphs">666</text>
<text x="11.30" y="829.94" font-size="8.75" fill="#AE1F49" textLength="103.20" lengthAdjust="spacingAndGlyphs">HLA-B Leader-Mismatched</text>
<text x="376.80" y="829.94" font-size="8.75" fill="#2A2A2A" text-anchor="middle" textLength="89.29" lengthAdjust="spacingAndGlyphs">0.97 ( 0.51 - 1.84 ) , .92</text>
<text x="473.70" y="829.94" font-size="8.75" fill="#2A2A2A" text-anchor="middle" textLength="9.52" lengthAdjust="spacingAndGlyphs">64</text>
<text x="11.30" y="842.75" font-size="8.75" fill="#AE1F49" textLength="26.60" lengthAdjust="spacingAndGlyphs">HLA-C</text>
<text x="376.80" y="842.75" font-size="8.75" fill="#2A2A2A" text-anchor="middle" textLength="89.29" lengthAdjust="spacingAndGlyphs">0.96 ( 0.80 - 1.16 ) , .70</text>
<text x="473.70" y="842.75" font-size="8.75" fill="#2A2A2A" text-anchor="middle" textLength="19.02" lengthAdjust="spacingAndGlyphs">2141</text>
<text x="11.30" y="855.56" font-size="8.75" fill="#AE1F49" textLength="41.50" lengthAdjust="spacingAndGlyphs">HLA-DRB1</text>
<text x="376.80" y="855.56" font-size="8.75" fill="#2A2A2A" text-anchor="middle" textLength="89.29" lengthAdjust="spacingAndGlyphs">1.19 ( 0.94 - 1.50 ) , .15</text>
<text x="473.70" y="855.56" font-size="8.75" fill="#2A2A2A" text-anchor="middle" textLength="14.26" lengthAdjust="spacingAndGlyphs">437</text>
<text x="11.30" y="868.17" font-size="8.4" font-weight="700" fill="#213F82" textLength="12.90" lengthAdjust="spacingAndGlyphs">MT</text>
<text x="11.30" y="881.18" font-size="8.75" fill="#36538F" textLength="42.00" lengthAdjust="spacingAndGlyphs">HLA-DQB1</text>
<text x="376.80" y="881.18" font-size="8.75" fill="#2A2A2A" text-anchor="middle" textLength="39.41" lengthAdjust="spacingAndGlyphs">Reference</text>
<text x="473.70" y="881.18" font-size="8.75" fill="#2A2A2A" text-anchor="middle" textLength="14.26" lengthAdjust="spacingAndGlyphs">926</text>
<text x="11.30" y="893.99" font-size="8.75" fill="#36538F" textLength="26.10" lengthAdjust="spacingAndGlyphs">HLA-A</text>
<text x="376.80" y="893.99" font-size="8.75" fill="#2A2A2A" text-anchor="middle" textLength="89.29" lengthAdjust="spacingAndGlyphs">1.19 ( 0.99 - 1.43 ) , .06</text>
<text x="473.70" y="893.99" font-size="8.75" fill="#2A2A2A" text-anchor="middle" textLength="18.37" lengthAdjust="spacingAndGlyphs">1165</text>
<text x="11.30" y="906.80" font-size="8.75" fill="#36538F" textLength="91.30" lengthAdjust="spacingAndGlyphs">HLA-B Leader-Matched</text>
<text x="376.80" y="906.80" font-size="8.75" fill="#2A2A2A" text-anchor="middle" textLength="89.29" lengthAdjust="spacingAndGlyphs">1.21 ( 0.94 - 1.55 ) , .13</text>
<text x="473.70" y="906.80" font-size="8.75" fill="#2A2A2A" text-anchor="middle" textLength="14.26" lengthAdjust="spacingAndGlyphs">448</text>
<text x="11.30" y="919.61" font-size="8.75" fill="#36538F" textLength="103.20" lengthAdjust="spacingAndGlyphs">HLA-B Leader-Mismatched</text>
<text x="376.80" y="919.61" font-size="8.75" fill="#2A2A2A" text-anchor="middle" textLength="89.29" lengthAdjust="spacingAndGlyphs">1.36 ( 0.73 - 2.54 ) , .33</text>
<text x="473.70" y="919.61" font-size="8.75" fill="#2A2A2A" text-anchor="middle" textLength="9.52" lengthAdjust="spacingAndGlyphs">71</text>
<text x="11.30" y="932.42" font-size="8.75" fill="#36538F" textLength="26.60" lengthAdjust="spacingAndGlyphs">HLA-C</text>
<text x="376.80" y="932.42" font-size="8.75" fill="#2A2A2A" text-anchor="middle" textLength="89.29" lengthAdjust="spacingAndGlyphs">1.20 ( 0.99 - 1.46 ) , .07</text>
<text x="473.70" y="932.42" font-size="8.75" fill="#2A2A2A" text-anchor="middle" textLength="19.02" lengthAdjust="spacingAndGlyphs">1246</text>
<text x="11.30" y="945.23" font-size="8.75" fill="#36538F" textLength="41.50" lengthAdjust="spacingAndGlyphs">HLA-DRB1</text>
<text x="376.80" y="945.23" font-size="8.75" fill="#2A2A2A" text-anchor="middle" textLength="89.29" lengthAdjust="spacingAndGlyphs">0.93 ( 0.68 - 1.26 ) , .62</text>
<text x="473.70" y="945.23" font-size="8.75" fill="#2A2A2A" text-anchor="middle" textLength="14.26" lengthAdjust="spacingAndGlyphs">264</text>
<text x="11.30" y="957.84" font-size="8.4" font-weight="700" fill="#58A530" textLength="15.90" lengthAdjust="spacingAndGlyphs">MM</text>
<text x="11.30" y="970.85" font-size="8.75" fill="#6BB047" textLength="42.00" lengthAdjust="spacingAndGlyphs">HLA-DQB1</text>
<text x="376.80" y="970.85" font-size="8.75" fill="#2A2A2A" text-anchor="middle" textLength="39.41" lengthAdjust="spacingAndGlyphs">Reference</text>
<text x="473.70" y="970.85" font-size="8.75" fill="#2A2A2A" text-anchor="middle" textLength="14.26" lengthAdjust="spacingAndGlyphs">194</text>
<text x="11.30" y="983.66" font-size="8.75" fill="#6BB047" textLength="26.10" lengthAdjust="spacingAndGlyphs">HLA-A</text>
<text x="376.80" y="983.66" font-size="8.75" fill="#2A2A2A" text-anchor="middle" textLength="89.29" lengthAdjust="spacingAndGlyphs">0.94 ( 0.64 - 1.37 ) , .74</text>
<text x="473.70" y="983.66" font-size="8.75" fill="#2A2A2A" text-anchor="middle" textLength="14.26" lengthAdjust="spacingAndGlyphs">209</text>
<text x="11.30" y="996.47" font-size="8.75" fill="#6BB047" textLength="91.30" lengthAdjust="spacingAndGlyphs">HLA-B Leader-Matched</text>
<text x="376.80" y="996.47" font-size="8.75" fill="#2A2A2A" text-anchor="middle" textLength="89.29" lengthAdjust="spacingAndGlyphs">0.58 ( 0.31 - 1.08 ) , .09</text>
<text x="473.70" y="996.47" font-size="8.75" fill="#2A2A2A" text-anchor="middle" textLength="9.52" lengthAdjust="spacingAndGlyphs">62</text>
<text x="11.30" y="1009.28" font-size="8.75" fill="#6BB047" textLength="103.20" lengthAdjust="spacingAndGlyphs">HLA-B Leader-Mismatched</text>
<text x="376.80" y="1009.28" font-size="8.75" fill="#2A2A2A" text-anchor="middle" textLength="89.29" lengthAdjust="spacingAndGlyphs">2.75 ( 0.97 - 7.79 ) , .06</text>
<text x="473.70" y="1009.28" font-size="8.75" fill="#2A2A2A" text-anchor="middle" textLength="9.52" lengthAdjust="spacingAndGlyphs">10</text>
<text x="11.30" y="1022.09" font-size="8.75" fill="#6BB047" textLength="26.60" lengthAdjust="spacingAndGlyphs">HLA-C</text>
<text x="376.80" y="1022.09" font-size="8.75" fill="#2A2A2A" text-anchor="middle" textLength="89.29" lengthAdjust="spacingAndGlyphs">0.72 ( 0.46 - 1.13 ) , .16</text>
<text x="473.70" y="1022.09" font-size="8.75" fill="#2A2A2A" text-anchor="middle" textLength="14.26" lengthAdjust="spacingAndGlyphs">131</text>
<text x="11.30" y="1034.90" font-size="8.75" fill="#6BB047" textLength="41.50" lengthAdjust="spacingAndGlyphs">HLA-DRB1</text>
<text x="376.80" y="1034.90" font-size="8.75" fill="#2A2A2A" text-anchor="middle" textLength="89.29" lengthAdjust="spacingAndGlyphs">0.88 ( 0.48 - 1.63 ) , .69</text>
<text x="473.70" y="1034.90" font-size="8.75" fill="#2A2A2A" text-anchor="middle" textLength="9.52" lengthAdjust="spacingAndGlyphs">44</text>
<line x1="187.78" y1="801.82" x2="204.52" y2="801.82" stroke="#A50034" stroke-width="1.5"/>
<line x1="184.03" y1="814.63" x2="205.80" y2="814.63" stroke="#A50034" stroke-width="1.5"/>
<line x1="163.43" y1="827.44" x2="227.59" y2="827.44" stroke="#A50034" stroke-width="1.5"/>
<line x1="185.94" y1="840.25" x2="204.52" y2="840.25" stroke="#A50034" stroke-width="1.5"/>
<line x1="194.01" y1="853.06" x2="217.37" y2="853.06" stroke="#A50034" stroke-width="1.5"/>
<line x1="196.60" y1="891.49" x2="214.99" y2="891.49" stroke="#213F82" stroke-width="1.5"/>
<line x1="194.01" y1="904.30" x2="219.01" y2="904.30" stroke="#213F82" stroke-width="1.5"/>
<line x1="181.36" y1="917.11" x2="243.71" y2="917.11" stroke="#213F82" stroke-width="1.5"/>
<line x1="196.60" y1="929.92" x2="216.02" y2="929.92" stroke="#213F82" stroke-width="1.5"/>
<line x1="177.82" y1="942.73" x2="208.66" y2="942.73" stroke="#213F82" stroke-width="1.5"/>
<line x1="174.78" y1="981.16" x2="212.84" y2="981.16" stroke="#62AA3E" stroke-width="1.5"/>
<line x1="138.54" y1="993.97" x2="200.95" y2="993.97" stroke="#62AA3E" stroke-width="1.5"/>
<line x1="195.58" y1="1006.78" x2="299.75" y2="1006.78" stroke="#62AA3E" stroke-width="1.5"/>
<line x1="158.27" y1="1019.59" x2="203.21" y2="1019.59" stroke="#62AA3E" stroke-width="1.5"/>
<line x1="160.40" y1="1032.40" x2="221.53" y2="1032.40" stroke="#62AA3E" stroke-width="1.5"/>
<line x1="197.0" y1="756.8" x2="197.0" y2="1050.01" stroke="#000" stroke-width="1.7" stroke-dasharray="4.75 3.71" stroke-dashoffset="1.96"/>
<rect x="194.60" y="786.51" width="5" height="5" fill="#A50034"/>
<rect x="193.59" y="799.32" width="5" height="5" fill="#A50034"/>
<rect x="192.56" y="812.13" width="5" height="5" fill="#A50034"/>
<rect x="193.08" y="824.94" width="5" height="5" fill="#A50034"/>
<rect x="192.56" y="837.75" width="5" height="5" fill="#A50034"/>
<rect x="203.30" y="850.56" width="5" height="5" fill="#A50034"/>
<circle cx="197.10" cy="878.68" r="2.6" fill="#213F82"/>
<circle cx="205.80" cy="891.49" r="2.6" fill="#213F82"/>
<circle cx="206.63" cy="904.30" r="2.6" fill="#213F82"/>
<circle cx="212.48" cy="917.11" r="2.6" fill="#213F82"/>
<circle cx="206.22" cy="929.92" r="2.6" fill="#213F82"/>
<circle cx="193.47" cy="942.73" r="2.6" fill="#213F82"/>
<polygon points="197.10,965.85 199.40,970.70 194.80,970.70" fill="#58A530"/>
<polygon points="194.01,978.66 196.31,983.51 191.71,983.51" fill="#58A530"/>
<polygon points="169.86,991.47 172.16,996.32 167.56,996.32" fill="#58A530"/>
<polygon points="247.68,1004.28 249.98,1009.13 245.38,1009.13" fill="#58A530"/>
<polygon points="180.67,1017.09 182.97,1021.94 178.37,1021.94" fill="#58A530"/>
<polygon points="190.71,1029.90 193.01,1034.75 188.41,1034.75" fill="#58A530"/>
</svg></div></body></html>
